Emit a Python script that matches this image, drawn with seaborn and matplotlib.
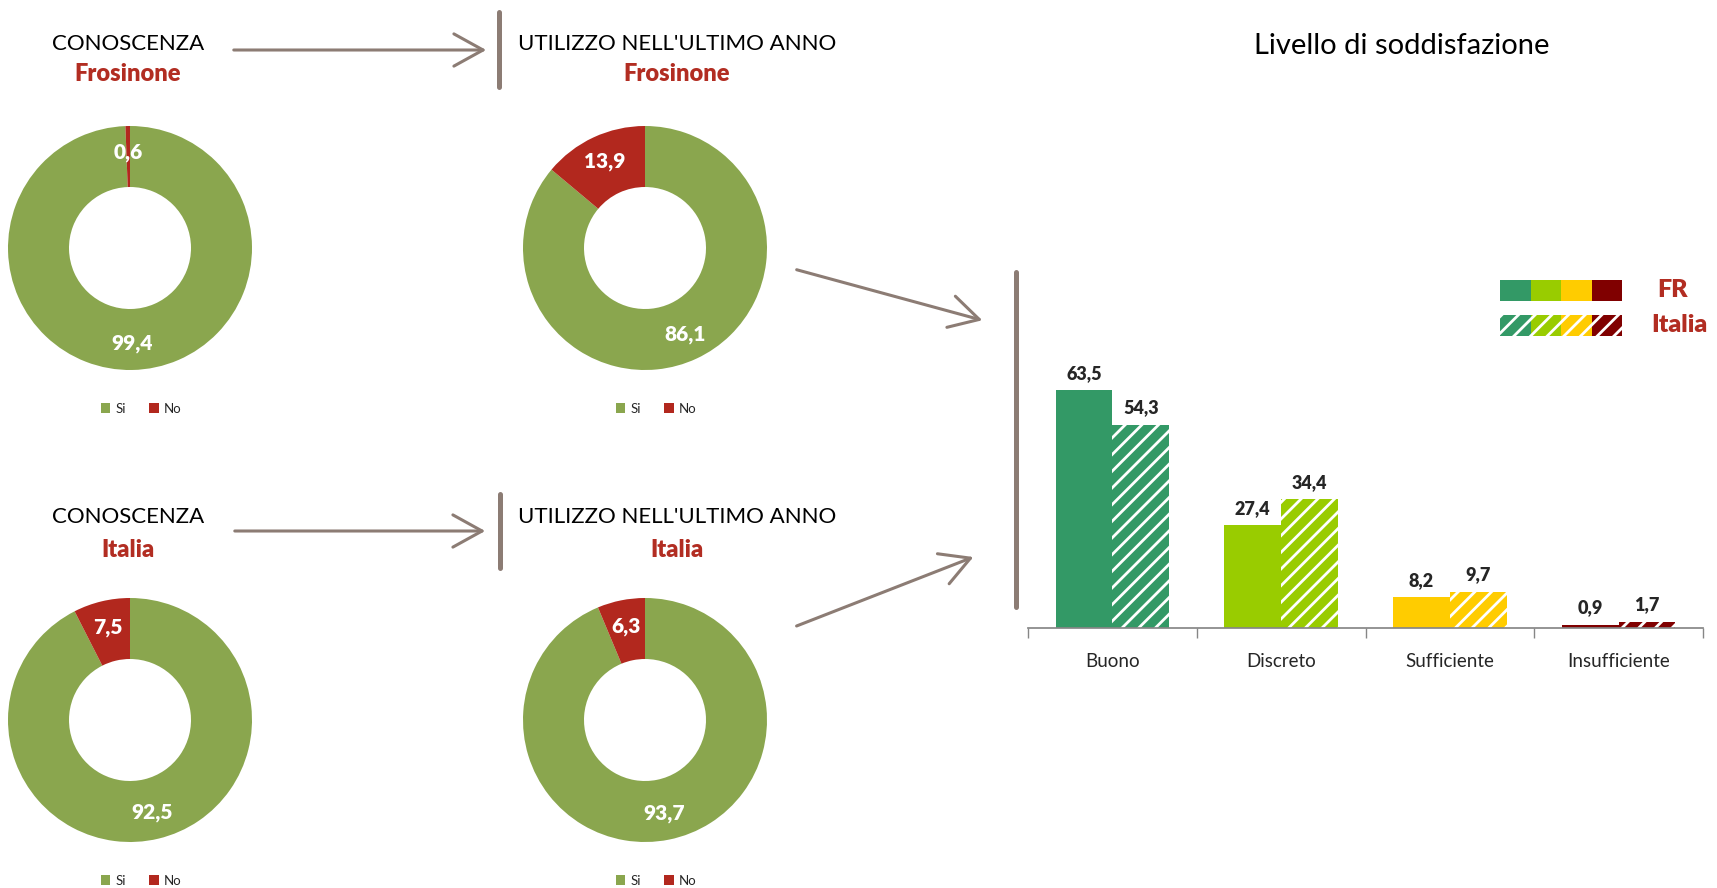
import matplotlib
matplotlib.use('Agg')
import matplotlib.pyplot as plt
from matplotlib.patches import FancyArrowPatch
from matplotlib.lines import Line2D
import pandas as pd
import seaborn as sns

# --- data ---
pie_labels = ['Si', 'No']
conoscenza_fr = [99.4, 0.6]
utilizzo_fr = [86.1, 13.9]
conoscenza_it = [92.5, 7.5]
utilizzo_it = [93.7, 6.3]

categorie = ['Buono', 'Discreto', 'Sufficiente', 'Insufficiente']
soddisf_fr = [63.5, 27.4, 8.2, 0.9]
soddisf_it = [54.3, 34.4, 9.7, 1.7]
gruppi = ['FR', 'Italia']

# --- colours ---
GREEN = '#8AA64E'
RED = '#B2281E'
TITLE_RED = '#B22D22'
ARROW = '#8C7C74'
cat_colors = ['#339966', '#99CC00', '#FFCC00', '#800000']

sns.set_theme(style='white')
plt.rcParams['font.family'] = ['Lato', 'DejaVu Sans']
plt.rcParams['hatch.linewidth'] = 2.0

W, H = 1717, 888
fig = plt.figure(figsize=(W / 100, H / 100), dpi=100)


def fig_box(x0, y0, w, h):
    # pixel box measured from the top-left corner -> figure fraction
    return [x0 / W, 1 - (y0 + h) / H, w / W, h / H]


def fp(x, y):
    return (x / W, 1 - y / H)


def fmt(v):
    return f'{v:.1f}'.replace('.', ',')


def donut(cx, cy, values):
    ax = fig.add_axes(fig_box(cx - 122, cy - 122, 244, 244))
    wedges, _, autotexts = ax.pie(values, colors=[GREEN, RED], startangle=90,
                                  counterclock=False, autopct='%1.1f',
                                  pctdistance=0.78,
                                  textprops=dict(color='white', fontsize=15, fontweight='heavy'),
                                  wedgeprops=dict(width=0.5, linewidth=0))
    for t, v in zip(autotexts, values):
        t.set_text(fmt(v))
    ax.set_xlim(-1, 1)
    ax.set_ylim(-1, 1)
    ax.legend(wedges, pie_labels, loc='center', bbox_to_anchor=(0.545, -0.158),
              ncol=2, frameon=False, fontsize=9.5, handlelength=0.7,
              handleheight=0.7, handletextpad=0.4, columnspacing=1.8)
    return ax


donut(130, 248, conoscenza_fr)
donut(645, 248, utilizzo_fr)
donut(130, 720, conoscenza_it)
donut(645, 720, utilizzo_it)

# titles of the donuts
for (x, y, txt) in [(128, 44, 'CONOSCENZA'), (677, 44, "UTILIZZO NELL'ULTIMO ANNO"),
                    (128, 517, 'CONOSCENZA'), (677, 517, "UTILIZZO NELL'ULTIMO ANNO")]:
    fig.text(*fp(x, y), txt, ha='center', va='center', fontsize=16, color='black')
for (x, y, txt) in [(128, 74, 'Frosinone'), (677, 74, 'Frosinone'),
                    (128, 550, 'Italia'), (677, 550, 'Italia')]:
    fig.text(*fp(x, y), txt, ha='center', va='center', fontsize=17,
             fontweight='heavy', color=TITLE_RED)

# arrows and separators
arrow_kw = dict(arrowstyle='->,head_length=1.05,head_width=0.58', mutation_scale=20,
                lw=2.2, color=ARROW, transform=fig.transFigure)
for a, b in [((231, 50), (489, 50)), ((232, 531), (488, 531)),
             ((794, 269), (985, 321)), ((794, 627), (976, 556))]:
    fig.add_artist(FancyArrowPatch(fp(*a), fp(*b), **arrow_kw))
for x, y0, y1 in [(499, 12, 87), (500, 494, 568), (1016, 272, 607)]:
    fig.add_artist(Line2D([x / W, x / W], [1 - y0 / H, 1 - y1 / H],
                          transform=fig.transFigure, lw=3.6, color=ARROW))

# --- bar chart ---
df = pd.DataFrame({
    'categoria': categorie * 2,
    'gruppo': [gruppi[0]] * len(categorie) + [gruppi[1]] * len(categorie),
    'valore': soddisf_fr + soddisf_it,
})
bx = fig.add_axes(fig_box(1028, 366, 675, 262))
sns.barplot(data=df, x='categoria', y='valore', hue='gruppo', hue_order=gruppi,
            width=0.674, saturation=1, legend=False, ax=bx)
for k, cont in enumerate(bx.containers):
    for bar, col in zip(cont, cat_colors):
        bar.set_facecolor(col)
        bar.set_linewidth(0)
        if k == 1:
            bar.set_edgecolor('white')
            bar.set_hatch('//')
    vals = soddisf_fr if k == 0 else soddisf_it
    bx.bar_label(cont, labels=[fmt(v) for v in vals], padding=6,
                 fontsize=13, fontweight='heavy')
bx.set_ylim(0, 70)
bx.set_xlim(-0.5, 3.5)
bx.set_xlabel('')
bx.set_ylabel('')
bx.set_yticks([])
for s in ['left', 'top', 'right']:
    bx.spines[s].set_visible(False)
bx.spines['bottom'].set_color('#868686')
bx.set_xticks([-0.5, 0.5, 1.5, 2.5, 3.5], minor=True)
bx.tick_params(axis='x', which='minor', length=7, color='#868686', direction='out', bottom=True)
bx.tick_params(axis='x', which='major', length=0, pad=18, labelsize=13.5)
bx.patch.set_alpha(0)

fig.text(*fp(1402, 46), 'Livello di soddisfazione', ha='center', va='center',
         fontsize=21, color='black')

# legend of the bar chart
lax = fig.add_axes(fig_box(1500, 280, 122, 56))
lax.bar(range(4), [1] * 4, bottom=56 / 21 - 1, width=1, color=cat_colors, linewidth=0)
lax.bar(range(4), [1] * 4, bottom=0, width=1, color=cat_colors, linewidth=0,
        edgecolor='white', hatch='//')
lax.set_xlim(-0.5, 3.5)
lax.set_ylim(0, 56 / 21)
lax.axis('off')
fig.text(*fp(1657, 290), 'FR', ha='left', va='center', fontsize=18,
         fontweight='heavy', color=TITLE_RED)
fig.text(*fp(1651, 325), 'Italia', ha='left', va='center', fontsize=18,
         fontweight='heavy', color=TITLE_RED)

fig.savefig('out.png', dpi=100)
